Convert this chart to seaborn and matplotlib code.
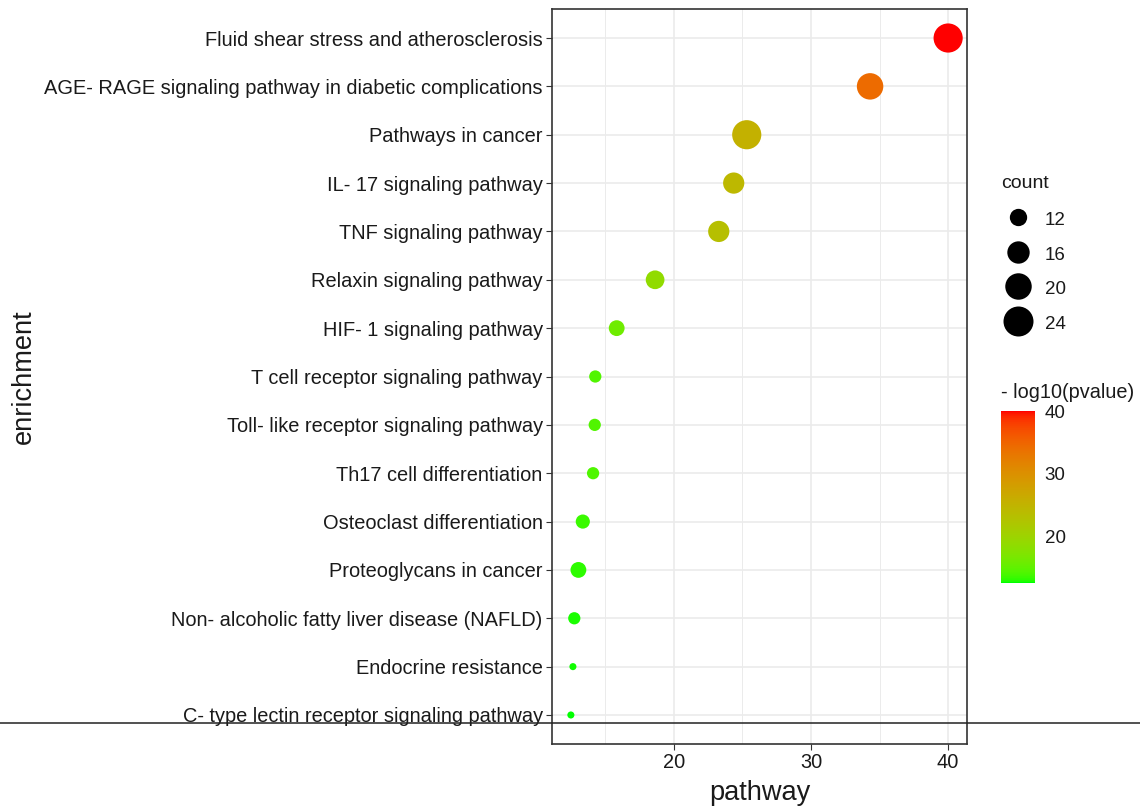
import numpy as np
import pandas as pd
import matplotlib.pyplot as plt
import seaborn as sns
from matplotlib.colors import ListedColormap, Normalize
from matplotlib.cm import ScalarMappable
from matplotlib.lines import Line2D

pathways = [
    "Fluid shear stress and atherosclerosis",
    "AGE- RAGE signaling pathway in diabetic complications",
    "Pathways in cancer",
    "IL- 17 signaling pathway",
    "TNF signaling pathway",
    "Relaxin signaling pathway",
    "HIF- 1 signaling pathway",
    "T cell receptor signaling pathway",
    "Toll- like receptor signaling pathway",
    "Th17 cell differentiation",
    "Osteoclast differentiation",
    "Proteoglycans in cancer",
    "Non- alcoholic fatty liver disease (NAFLD)",
    "Endocrine resistance",
    "C- type lectin receptor signaling pathway",
]
enrich_values = [40.0, 34.31, 25.32, 24.37, 23.28, 18.64, 15.84, 14.28,
                 14.24, 14.12, 13.37, 13.05, 12.75, 12.65, 12.5]
neg_log10_p = [40.0, 34.31, 25.32, 24.37, 23.28, 18.64, 15.84, 14.28,
               14.24, 14.12, 13.37, 13.05, 12.75, 12.65, 12.5]
counts = [23, 20, 23, 15, 15, 13, 11, 9, 9, 9, 10, 11, 9, 7, 7]
legend_counts = [12, 16, 20, 24]

df = pd.DataFrame({"enrichment": pathways, "pathway": enrich_values,
                   "pvalue": neg_log10_p, "count": counts})


# ggplot-style green -> red gradient, interpolated in CIELAB
def rgb_to_lab(rgb):
    c = np.asarray(rgb, float)
    lin = np.where(c <= 0.04045, c / 12.92, ((c + 0.055) / 1.055) ** 2.4)
    M = np.array([[0.4124, 0.3576, 0.1805], [0.2126, 0.7152, 0.0722], [0.0193, 0.1192, 0.9505]])
    xyz = M @ lin / np.array([0.95047, 1.0, 1.08883])
    f = np.where(xyz > (6 / 29) ** 3, np.cbrt(xyz), xyz / (3 * (6 / 29) ** 2) + 4 / 29)
    return np.array([116 * f[1] - 16, 500 * (f[0] - f[1]), 200 * (f[1] - f[2])])


def lab_to_rgb(lab):
    L, a, b = lab
    fy = (L + 16) / 116
    f = np.array([fy + a / 500, fy, fy - b / 200])
    xyz = np.where(f > 6 / 29, f ** 3, 3 * (6 / 29) ** 2 * (f - 4 / 29)) * np.array([0.95047, 1.0, 1.08883])
    Minv = np.linalg.inv(np.array([[0.4124, 0.3576, 0.1805], [0.2126, 0.7152, 0.0722], [0.0193, 0.1192, 0.9505]]))
    lin = np.clip(Minv @ xyz, 0, 1)
    return np.clip(np.where(lin <= 0.0031308, 12.92 * lin, 1.055 * lin ** (1 / 2.4) - 0.055), 0, 1)


lo_lab, hi_lab = rgb_to_lab([0, 1, 0]), rgb_to_lab([1, 0, 0])
cmap = ListedColormap([lab_to_rgb(lo_lab + t * (hi_lab - lo_lab)) for t in np.linspace(0, 1, 256)])
cnorm = Normalize(vmin=min(neg_log10_p), vmax=max(neg_log10_p))


# marker area (pt^2) grows linearly with count
def area(c):
    return 25.92 * c - 155.5


sns.set_theme(style="white")
plt.rcParams["font.family"] = ["Liberation Sans", "DejaVu Sans"]

fig = plt.figure(figsize=(11.4, 8.08), dpi=100)
ax = fig.add_axes([552 / 1140, 1 - 744 / 808, 415 / 1140, 735 / 808])

sns.scatterplot(data=df, x="pathway", y="enrichment", hue="pvalue", size="count",
                palette=cmap, hue_norm=cnorm, sizes=(area(7), area(24)), size_norm=(7, 24),
                linewidth=0, alpha=1, legend=False, ax=ax, zorder=3)

pad = 0.05 * (max(enrich_values) - min(enrich_values))
ax.set_xlim(min(enrich_values) - pad, max(enrich_values) + pad)
ax.set_ylim(len(pathways) - 1 + 0.6, -0.6)
ax.set_xticks([20, 30, 40])
ax.set_xticks([15, 25, 35], minor=True)
ax.set_axisbelow(True)
ax.grid(which="major", color="#EBEBEB", lw=1.2)
ax.grid(which="minor", axis="x", color="#EBEBEB", lw=0.7)
ax.tick_params(axis="both", which="major", length=4.2, width=0.8, color="#333333",
               pad=2.5, labelsize=14.4, labelcolor="#1a1a1a", left=True, bottom=True)
ax.tick_params(which="minor", length=0)
for s in ax.spines.values():
    s.set_visible(True)
    s.set_color("#333333")
    s.set_linewidth(1.2)

ax.set_xlabel("pathway", fontsize=19.6, color="#1a1a1a")
ax.xaxis.set_label_coords(0.5, -0.049)
ax.set_ylabel("enrichment", fontsize=19.6, color="#1a1a1a")
ax.yaxis.label.set_verticalalignment("center")
ax.yaxis.set_label_coords((24 - 552) / 415, 0.5)

# size legend
fig.text(1001 / 1140, 1 - 183 / 808, "count", fontsize=14,
         va="center", ha="left", color="#1a1a1a")
handles = [Line2D([], [], marker="o", linestyle="", markerfacecolor="black",
                  markeredgewidth=0, markersize=np.sqrt(area(c))) for c in legend_counts]
leg = fig.legend(handles, [str(c) for c in legend_counts],
                 loc="upper left", bbox_to_anchor=(1001 / 1140, 1 - 209 / 808),
                 frameon=False, borderpad=0, borderaxespad=0, fontsize=13.5,
                 handlelength=1.8, handleheight=1.2,
                 handletextpad=0.53, labelspacing=0.78)
for t in leg.get_texts():
    t.set_color("#1a1a1a")

# colour bar
cax = fig.add_axes([1001 / 1140, 1 - 583 / 808, 34 / 1140, 172 / 808])
cbar = fig.colorbar(ScalarMappable(norm=cnorm, cmap=cmap), cax=cax)
cbar.outline.set_visible(False)
cbar.set_ticks([20, 30, 40])
cax.tick_params(axis="y", direction="in", color="white", length=4, width=0.8,
                left=True, right=True, labelleft=False, labelright=True,
                labelsize=13.5, pad=7, labelcolor="#1a1a1a")
fig.text(1001 / 1140, 1 - 393 / 808, "- log10(pvalue)", fontsize=14.3,
         va="center", ha="left", color="#1a1a1a")

# stray horizontal rule across the whole image
fig.add_artist(Line2D([0, 1], [1 - 723.3 / 808] * 2, transform=fig.transFigure,
                      color="#222222", lw=1.1, zorder=10))

fig.savefig("out.png", dpi=100)
